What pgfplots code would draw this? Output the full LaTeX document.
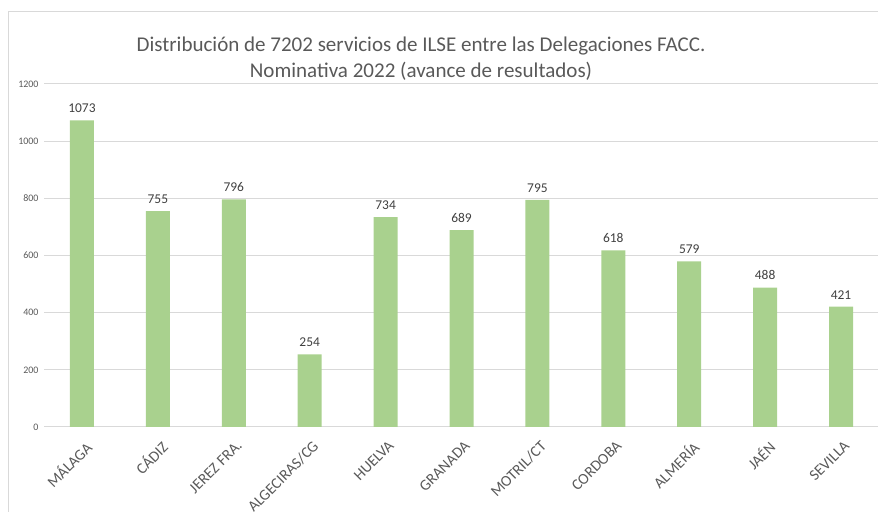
\documentclass[border=0pt]{standalone}
\usepackage{pgfplots}
\pgfplotsset{compat=1.18}
\usepackage{fontspec}
\setmainfont{Carlito}
\definecolor{bargreen}{HTML}{A9D18E}
\definecolor{gridgray}{HTML}{D9D9D9}
\definecolor{txtgray}{HTML}{595959}
\definecolor{lblgray}{HTML}{404040}
\begin{document}
\begin{tikzpicture}[x=1bp,y=1bp]
\useasboundingbox (0,0) rectangle (878,512);
\draw[gridgray, line width=1bp] (8,0) -- (8,500) -- (880,500);
\node[align=center, text=txtgray, font=\fontsize{21.1}{26}\selectfont] at (421,453) {Distribución de 7202 servicios de ILSE entre las Delegaciones FACC.\\Nominativa 2022 (avance de resultados)};
\begin{axis}[at={(44bp,85bp)}, anchor=south west, scale only axis,
  width=835bp, height=343bp,
  xmin=-0.5, xmax=10.5, ymin=0, ymax=1200,
  ytick={0,200,...,1200},
  xtick=data,
  xticklabels={MÁLAGA, CÁDIZ, JEREZ FRA., ALGECIRAS/CG, HUELVA, GRANADA, MOTRIL/CT, CORDOBA, ALMERÍA, JAÉN, SEVILLA},
  axis line style={draw=none},
  ymajorgrids, grid style={gridgray, line width=1bp},
  major tick style={draw=none},
  ybar, bar width=24bp,
  /pgf/number format/assume math mode=true,
  /pgf/number format/1000 sep={},
  yticklabel style={font=\fontsize{10}{10}\selectfont, text=txtgray, xshift=-2bp},
  xticklabel style={font=\fontsize{15.5}{16}\selectfont, text=txtgray, rotate=45, anchor=north east, xshift=-1bp, yshift=-4bp},
  nodes near coords,
  every node near coord/.append style={font=\fontsize{13.5}{14}\selectfont, text=lblgray, yshift=4bp},
  clip=false,
]
\addplot[fill=bargreen, draw=none] coordinates {(0,1073) (1,755) (2,796) (3,254) (4,734) (5,689) (6,795) (7,618) (8,579) (9,488) (10,421)};
\end{axis}
\end{tikzpicture}
\end{document}
